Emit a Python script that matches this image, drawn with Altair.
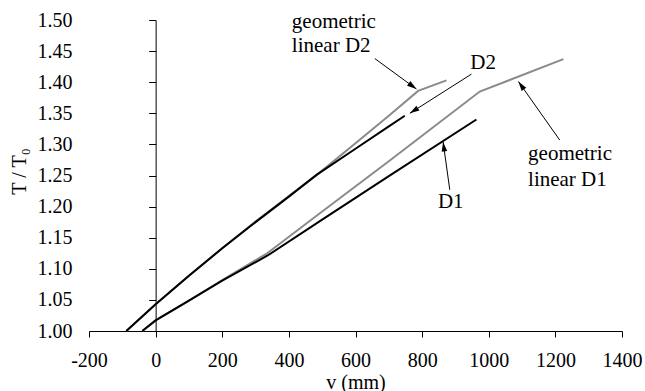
import math
import altair as alt
import pandas as pd

# ---- data -------------------------------------------------------------
# measured response (black)
v_d1 = [-40, 0, 100, 200, 335, 500, 700, 963]
t_d1 = [1.000, 1.017, 1.049, 1.081, 1.121, 1.179, 1.249, 1.340]

v_d2 = [-88, 0, 100, 200, 300, 400, 483, 600, 700, 748]
t_d2 = [1.000, 1.043, 1.089, 1.133, 1.175, 1.216, 1.251, 1.293, 1.329, 1.346]

# geometric linear approximation (grey)
v_geo_d1 = [-40, 0, 100, 200, 335, 500, 700, 973, 1224]
t_geo_d1 = [1.000, 1.017, 1.049, 1.082, 1.125, 1.192, 1.273, 1.385, 1.437]

v_geo_d2 = [-88, 0, 100, 200, 300, 400, 484, 600, 700, 788, 873]
t_geo_d2 = [1.000, 1.043, 1.089, 1.133, 1.176, 1.217, 1.251, 1.302, 1.346, 1.386, 1.403]

# annotation arrows: start -> tip, in data units
arrow_names = ["geo D2", "D2", "geo D1", "D1"]
arrow_v0 = [658, 948, 1213, 883]
arrow_t0 = [1.438, 1.413, 1.307, 1.227]
arrow_v1 = [783, 763, 1089, 863]
arrow_t1 = [1.389, 1.350, 1.401, 1.304]

# annotation text
note_text = ["geometric", "linear D2", "D2", "geometric", "linear D1", "D1"]
note_v = [409, 409, 983, 1118, 1118, 886]
note_t = [1.487, 1.448, 1.422, 1.275, 1.233, 1.198]
note_align = ["left", "left", "center", "left", "left", "center"]

x_ticks = [-200, 0, 200, 400, 600, 800, 1000, 1200, 1400]
y_ticks = [1.00, 1.05, 1.10, 1.15, 1.20, 1.25, 1.30, 1.35, 1.40, 1.45, 1.50]

X_DOMAIN = [-200, 1400]
Y_DOMAIN = [1.0, 1.5]
W, H = 533, 311
FONT = "Liberation Serif"
FS = 20

# ---- tables ------------------------------------------------------------
def series(name, vs, ts):
    return pd.DataFrame({"series": name, "v": vs, "t": ts, "order": range(len(vs))})

black_df = pd.concat([series("D1", v_d1, t_d1), series("D2", v_d2, t_d2)])
grey_df = pd.concat([series("geometric linear D1", v_geo_d1, t_geo_d1),
                     series("geometric linear D2", v_geo_d2, t_geo_d2)])

sx = W / (X_DOMAIN[1] - X_DOMAIN[0])
sy = H / (Y_DOMAIN[1] - Y_DOMAIN[0])
angles = []
for a0, b0, a1, b1 in zip(arrow_v0, arrow_t0, arrow_v1, arrow_t1):
    dx = (a1 - a0) * sx
    dy = -(b1 - b0) * sy
    angles.append(math.degrees(math.atan2(dx, -dy)) % 360)

arrow_df = pd.DataFrame({"name": arrow_names, "v0": arrow_v0, "t0": arrow_t0,
                         "v1": arrow_v1, "t1": arrow_t1, "angle": angles})
note_df = pd.DataFrame({"text": note_text, "v": note_v, "t": note_t, "align": note_align})

xscale = alt.Scale(domain=X_DOMAIN, nice=False, zero=False)
yscale = alt.Scale(domain=Y_DOMAIN, nice=False, zero=False)

x_axis = alt.Axis(orient="bottom", values=x_ticks, labelExpr="'' + datum.value",
                  grid=False, domainColor="black", tickColor="black", tickSize=6,
                  labelFont=FONT, labelFontSize=FS, labelColor="black",
                  labelBaseline="alphabetic", labelPadding=29, labelFlush=False,
                  labelOverlap=False,
                  titleFont=FONT, titleFontSize=FS, titleFontWeight="normal",
                  titleColor="black", titleBaseline="alphabetic", titleY=57)

# tick labels at the left edge of the plot
y_label_axis = alt.Axis(orient="left", values=y_ticks, format=".2f", grid=False,
                        domain=False, ticks=False, tickSize=0, labelPadding=17,
                        labelFlush=False, labelOverlap=False,
                        labelFont=FONT, labelFontSize=FS, labelColor="black",
                        titleFont=FONT, titleFontSize=FS, titleFontWeight="normal",
                        titleColor="black", titleAngle=270, titleX=-64, titleY=151,
                        titleAlign="center", titleBaseline="alphabetic")

# axis line crossing at v = 0
y_line_axis = alt.Axis(orient="left", values=y_ticks, grid=False, labels=False,
                       domainColor="black", tickColor="black", tickSize=7,
                       title="", offset=-(0 - X_DOMAIN[0]) * sx)

X_ENC = alt.X("v:Q", scale=xscale, axis=x_axis, title="v (mm)")

grey = alt.Chart(grey_df).mark_line(color="#8a8a8a", strokeWidth=2).encode(
    x=X_ENC,
    y=alt.Y("t:Q", scale=yscale, axis=y_label_axis, title="T / T₀"),
    detail="series:N",
    order="order:Q",
)

black = alt.Chart(black_df).mark_line(color="black", strokeWidth=2).encode(
    x=X_ENC,
    y=alt.Y("t:Q", scale=yscale, axis=y_line_axis),
    detail="series:N",
    order="order:Q",
)

arrow_lines = alt.Chart(arrow_df).mark_rule(color="black", strokeWidth=1).encode(
    x=alt.X("v0:Q", scale=xscale, axis=x_axis, title="v (mm)"),
    y=alt.Y("t0:Q", scale=yscale, axis=None),
    x2="v1:Q",
    y2="t1:Q",
)

arrow_heads = alt.Chart(arrow_df).mark_point(
    shape="M0,0L-0.7,2.4L0.7,2.4Z", filled=True, color="black", opacity=1,
    size=64, strokeWidth=0,
).encode(
    x=alt.X("v1:Q", scale=xscale, axis=x_axis, title="v (mm)"),
    y=alt.Y("t1:Q", scale=yscale, axis=None),
    angle=alt.Angle("angle:Q", scale=None),
)

notes_left = alt.Chart(note_df).transform_filter("datum.align == 'left'").mark_text(
    align="left", baseline="alphabetic", font=FONT, fontSize=21, color="black"
).encode(
    x=X_ENC,
    y=alt.Y("t:Q", scale=yscale, axis=None),
    text="text:N",
)

notes_center = alt.Chart(note_df).transform_filter("datum.align == 'center'").mark_text(
    align="center", baseline="alphabetic", font=FONT, fontSize=21, color="black"
).encode(
    x=X_ENC,
    y=alt.Y("t:Q", scale=yscale, axis=None),
    text="text:N",
)

chart = (
    alt.layer(grey, black, arrow_lines, arrow_heads, notes_left, notes_center)
    .resolve_axis(y="independent")
    .properties(
        width=W, height=H,
        autosize=alt.AutoSizeParams(type="none"),
        padding={"left": 89, "top": 20, "right": 23, "bottom": 60},
        background="white",
    )
    .configure_view(stroke=None)
)

chart.save("out.html", embed_options={"renderer": "svg", "actions": False})
